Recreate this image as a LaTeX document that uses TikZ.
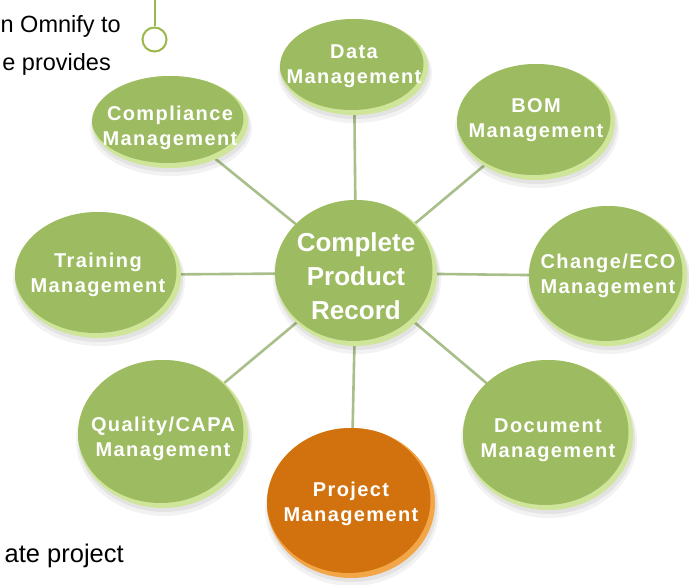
\documentclass[tikz,border=0pt]{standalone}
\usepackage{fontspec}
\setmainfont{Liberation Sans}
\newfontfamily\spacedfont[LetterSpace=7.0]{Liberation Sans}
\usetikzlibrary{shapes.geometric,backgrounds,calc}
\definecolor{btngreen}{HTML}{9DBB61}
\definecolor{btnrim}{HTML}{CFE69A}
\definecolor{btnorange}{HTML}{D2720E}
\definecolor{btnorangerim}{HTML}{F2A648}
\definecolor{linkgreen}{HTML}{A9BF8A}
\definecolor{pingreen}{HTML}{9BB84A}
\newcommand{\btntext}[3]{\smash{\makebox[0pt]{\raisebox{-#1pt}{\renewcommand{\arraystretch}{#2}\begin{tabular}{@{}c@{}}#3\end{tabular}}}}}
\tikzset{
  btn/.style={ellipse, inner sep=0pt, text=white,
    font=\spacedfont\bfseries\fontsize{20}{24}\selectfont,
    fill=btnrim,
    path picture={
      \path let \p1=(path picture bounding box.north east),
                \p2=(path picture bounding box.south west) in
        coordinate (pc) at ($(\p1)!0.5!(\p2)$)
        [fill=#1] ([xshift=-2.5pt,yshift=3pt]pc) ellipse [x radius={(\x1-\x2)/2-2pt}, y radius={(\y1-\y2)/2-2pt}];
    }},
  btn/.default=btngreen,
  hub/.style={btn, font=\bfseries\fontsize{26}{30}\selectfont},
  link/.style={draw=linkgreen, line width=2.6pt},
  plain/.style={font=\fontsize{23.5}{27}\selectfont, text=black, inner sep=0pt, anchor=base east},
}
\begin{document}
\begin{tikzpicture}[x=1pt,y=-1pt]
\begin{scope}[on background layer]
\fill[white] (0,0) rectangle (689,585);
\end{scope}
\useasboundingbox (0,0) rectangle (689,585);
% shadows
\foreach \cx/\cy/\w/\h in {354/67/148/96,170/122/156/92,536/122/158/116,98/275/166/126,356/273/162/146,608/276/158/140,163/434/170/148,548/435/170/150,351/503/168/150}{
  \fill[black,opacity=0.05] (\cx+1,\cy+6) ellipse [x radius=\w/2+3, y radius=\h/2+2];
  \fill[black,opacity=0.06] (\cx+1,\cy+4) ellipse [x radius=\w/2+1, y radius=\h/2];
}
% text on the left
\node[plain] (t1) at (121,33) {n Omnify to};
\node[plain] (t2) at (111,71) {e provides};
\node[plain, font=\fontsize{25.5}{29}\selectfont] (t3) at (124,562) {ate project};
% pin
\node[circle, draw=pingreen, line width=2pt, minimum size=24pt, inner sep=0pt] (pin) at (154.5,39.5) {};
\coordinate (pintop) at (154.5,0);
\draw[pingreen, line width=2pt] (pintop) -- (pin.north);
% buttons
\node[hub, minimum width=162pt, minimum height=146pt] (hub) at (356,273) {\btntext{12}{1.13}{Complete\\Product\\Record}};
\node[btn, minimum width=148pt, minimum height=96pt] (data) at (354,67) {\btntext{4}{1.08}{Data\\Management}};
\node[btn, minimum width=156pt, minimum height=92pt] (comp) at (170,122) {\btntext{11}{1.08}{Compliance\\Management}};
\node[btn, minimum width=158pt, minimum height=116pt] (bom) at (536,122) {\btntext{3}{1.08}{BOM\\Management}};
\node[btn, minimum width=166pt, minimum height=126pt] (train) at (98,275) {\btntext{5}{1.08}{Training\\Management}};
\node[btn, minimum width=158pt, minimum height=140pt] (change) at (608,276) {\btntext{5}{1.08}{Change/ECO\\Management}};
\node[btn, minimum width=170pt, minimum height=148pt] (qual) at (163,434) {\btntext{10}{1.08}{Quality/CAPA\\Management}};
\node[btn, minimum width=170pt, minimum height=150pt] (doc) at (548,435) {\btntext{10}{1.08}{Document\\Management}};
\node[btn=btnorange, fill=btnorangerim, minimum width=168pt, minimum height=150pt] (proj) at (351,503) {\btntext{6}{1.08}{Project\\Management}};
% connectors
\begin{scope}[on background layer]
\foreach \n in {data,comp,bom,train,change,qual,doc,proj}{
  \draw[link] (hub.center) -- (\n.center);
}
\end{scope}
\end{tikzpicture}
\end{document}
